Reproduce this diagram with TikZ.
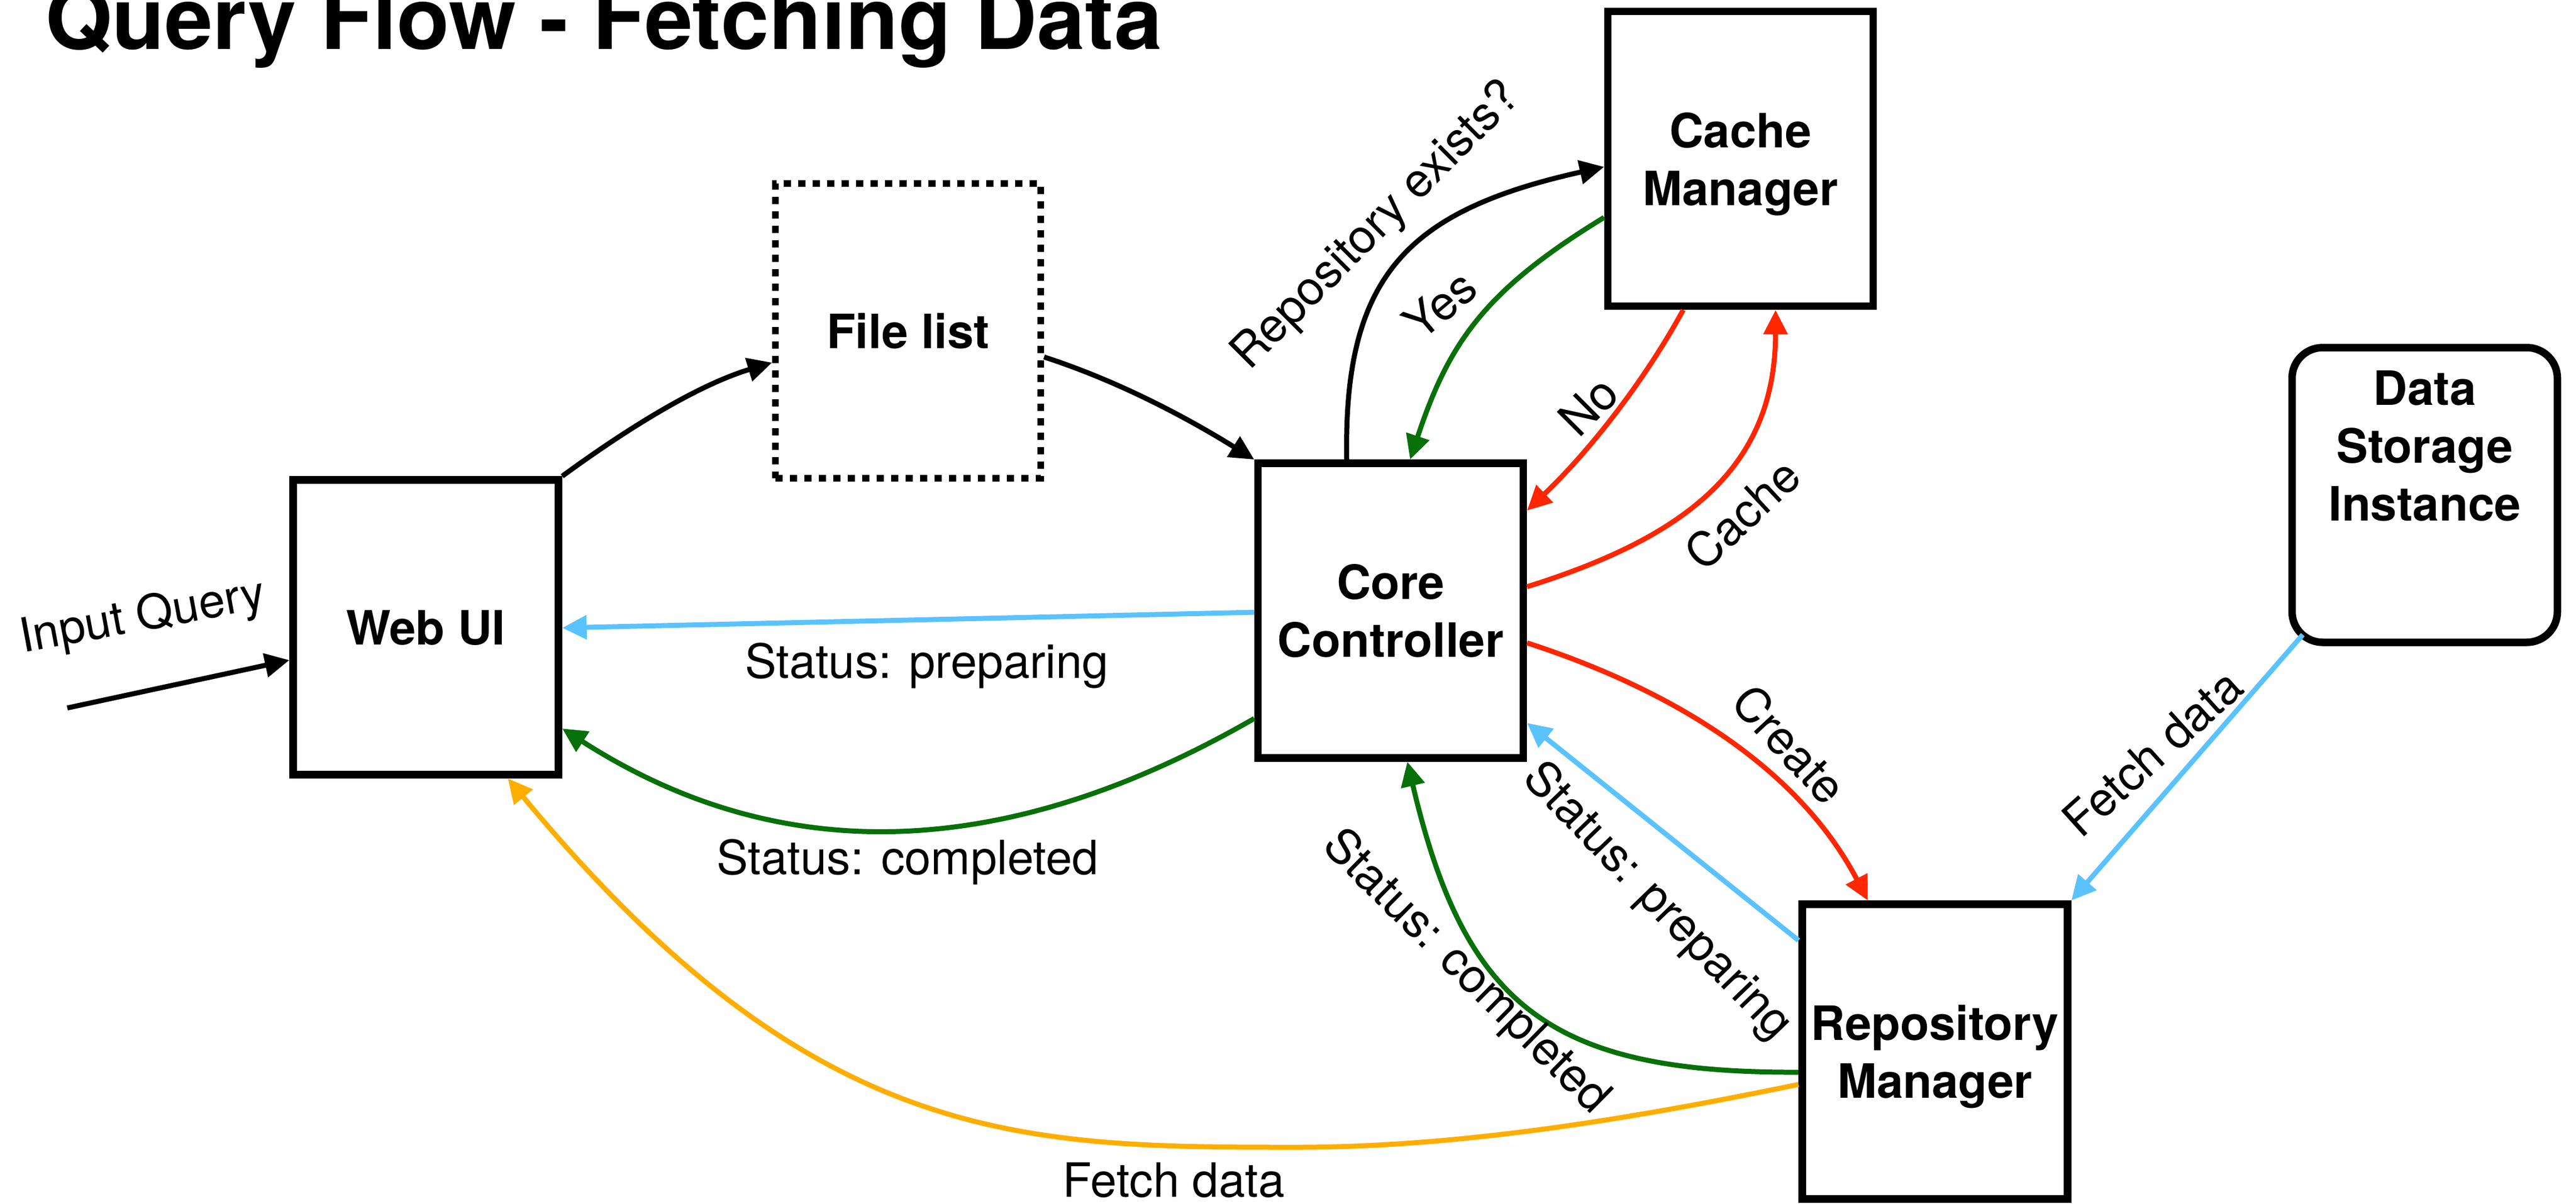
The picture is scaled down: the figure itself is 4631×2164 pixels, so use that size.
\documentclass[tikz,border=0pt]{standalone}
\usepackage{fontspec}
\setmainfont{TeX Gyre Heros}
\usetikzlibrary{arrows.meta}
\definecolor{cblue}{RGB}{90,195,255}
\definecolor{cgreen}{RGB}{8,112,8}
\definecolor{cred}{RGB}{255,38,0}
\definecolor{corange}{RGB}{255,174,0}
\begin{document}
\begin{tikzpicture}[x=1pt,y=-1pt,
  box/.style={draw, line width=13.5pt, minimum width=477pt, minimum height=530pt, inner sep=0pt, align=center, text depth=0pt, font=\fontsize{85}{104}\selectfont\bfseries},
  lbl/.style={font=\fontsize{85}{104}\selectfont, inner sep=0pt},
  conn/.style={line width=9pt, -{Triangle[length=44pt,width=42pt]}},
]
\useasboundingbox (0,0) rectangle (4631,2164);
\node[anchor=base west, inner sep=0pt, font=\fontsize{155}{180}\selectfont\bfseries] (title) at (81,88) {Query Flow - Fetching Data};

\node[box] (webui) at (765.5,1128) {Web UI};
\node[box, dash pattern=on 13pt off 13pt, line width=12pt] (filelist) at (1632.5,594.5) {File list};
\node[box] (cc) at (2500,1098) {Core\\Controller};
\node[box] (cm) at (3129,285.5) {Cache\\Manager};
\node[box] (rm) at (3478.5,1891) {Repository\\Manager};
\node[box, rounded corners=55pt] (dsi) at (4359,890) {};
\node[anchor=north, align=center, inner sep=0pt, font=\fontsize{85}{104}\selectfont\bfseries] (dsitext) at (4359,666) {Data\\Storage\\Instance};

\coordinate (iq) at (121,1273);
\draw[conn] (iq) -- (webui.west |- 0,1187);
\draw[conn] (webui.north east) .. controls (1123,774) and (1252,693) .. (filelist.west |- 0,652);
\draw[conn] (filelist.east |- 0,642) .. controls (2013,686) and (2137,753) .. (cc.north west);
\draw[conn, cblue] (cc.west |- 0,1101) -- (webui.east |- 0,1129);
\draw[conn, cgreen] (cc.west |- 0,1292) .. controls (1833,1535) and (1423,1575) .. (webui.east |- 0,1310);
\draw[conn, corange] (rm.west |- 0,1950) .. controls (2941,2010) and (2630,2063) .. (2330,2063) .. controls (1830,2063) and (1460,2060) .. (webui.south -| 913,0);
\draw[conn] (cc.north -| 2421,0) .. controls (2415,496) and (2529.6,379) .. (cm.west |- 0,300);
\draw[conn, cgreen] (cm.west |- 0,391) .. controls (2668.6,522.3) and (2604.5,616.5) .. (cc.north -| 2535,0);
\draw[conn, cred] (cm.south -| 3026,0) .. controls (2953,690.7) and (2854.6,813.7) .. (cc.east |- 0,918);
\draw[conn, cred] (cc.east |- 0,1055) .. controls (3033,965) and (3191.6,839.5) .. (cm.south -| 3192,0);
\draw[conn, cred] (cc.east |- 0,1156) .. controls (3032,1249) and (3240.5,1395) .. (rm.north -| 3358,0);
\draw[conn, cblue] (rm.west |- 0,1691) -- (cc.east |- 0,1300);
\draw[conn, cgreen] (rm.west |- 0,1928) .. controls (2785,1930) and (2633,1808) .. (cc.south -| 2530,0);
\draw[conn, cblue] ([xshift=26pt,yshift=20.5pt]dsi.south west) -- (rm.north east);

\node[lbl, anchor=base west, rotate=10.5] (lq) at (41,1174) {Input Query};
\node[lbl, anchor=base] (lsp1) at (1666,1219) {Status: preparing};
\node[lbl, anchor=base] (lsc1) at (1631.5,1572) {Status: completed};
\node[lbl, anchor=base] (lfd1) at (2110,2152) {Fetch data};
\node[lbl, rotate=45] (lre) at (2475,407) {Repository exists?};
\node[lbl, rotate=40] (lyes) at (2588,548) {Yes};
\node[lbl, rotate=45] (lno) at (2855,730) {No};
\node[lbl, rotate=43] (lcache) at (3132,924) {Cache};
\node[lbl, rotate=-47] (lcreate) at (3217,1338) {Create};
\node[lbl, rotate=-46] (lsp2) at (2978,1622) {Status: preparing};
\node[lbl, rotate=-44.6] (lsc2) at (2634,1749) {Status: completed};
\node[lbl, rotate=42] (lfd2) at (3869,1354) {Fetch data};
\end{tikzpicture}
\end{document}
